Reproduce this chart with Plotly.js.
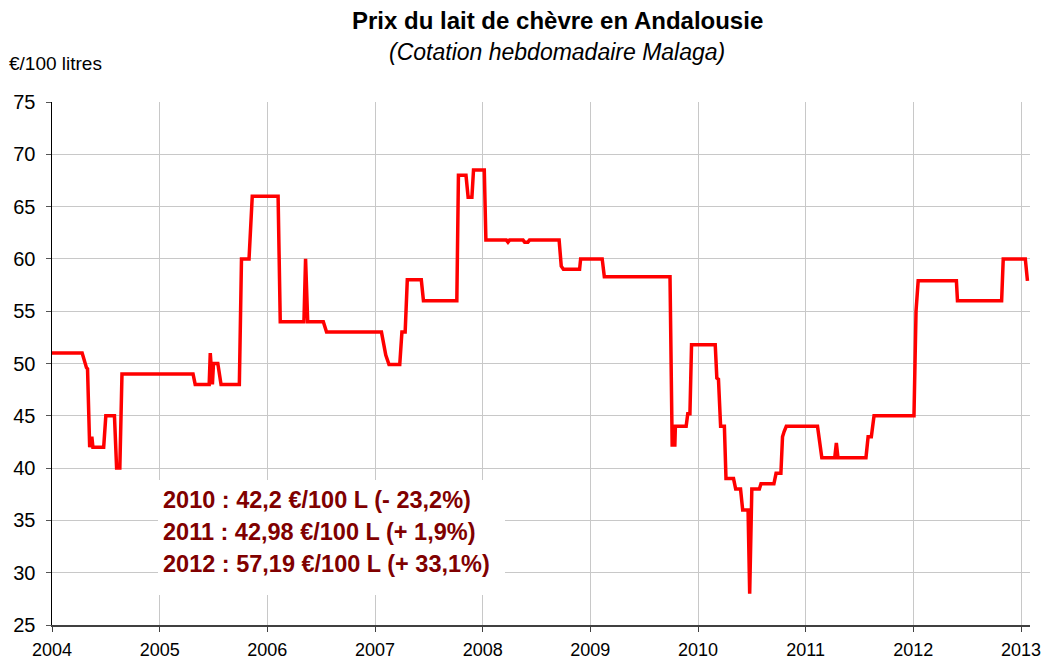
<!DOCTYPE html>
<html>
<head>
<meta charset="utf-8">
<script src="https://cdn.plot.ly/plotly-3.0.1.min.js"></script>
<style>html,body{margin:0;padding:0;background:#fff}#chart{width:1043px;height:663px}</style>
</head>
<body>
<div id="chart"></div>
<script>
// Weekly quotation (decimal year, €/100 litres)
const dates = [
  2004.00, 2004.28, 2004.32, 2004.33, 2004.35, 2004.37, 2004.38, 2004.48, 2004.50, 2004.58,
  2004.60, 2004.63, 2004.65, 2005.31, 2005.33, 2005.46, 2005.47, 2005.49, 2005.50, 2005.54,
  2005.57, 2005.74, 2005.76, 2005.83, 2005.86, 2006.10, 2006.12, 2006.34, 2006.355, 2006.375,
  2006.52, 2006.55, 2007.06, 2007.10, 2007.13, 2007.23, 2007.25, 2007.28, 2007.30, 2007.43,
  2007.45, 2007.76, 2007.775, 2007.845, 2007.865, 2007.90, 2007.915, 2008.015, 2008.03, 2008.22,
  2008.235, 2008.25, 2008.375, 2008.39, 2008.42, 2008.435, 2008.71, 2008.73, 2008.75, 2008.90,
  2008.91, 2009.11, 2009.13, 2009.74, 2009.76, 2009.785, 2009.79, 2009.89, 2009.905, 2009.925,
  2009.94, 2010.16, 2010.175, 2010.19, 2010.21, 2010.245, 2010.26, 2010.33, 2010.35, 2010.395,
  2010.415, 2010.465, 2010.48, 2010.50, 2010.57, 2010.585, 2010.705, 2010.725, 2010.77, 2010.785,
  2010.80, 2010.82, 2011.11, 2011.15, 2011.27, 2011.285, 2011.30, 2011.56, 2011.58, 2011.61,
  2011.635, 2012.006, 2012.025, 2012.045, 2012.40, 2012.41, 2012.82, 2012.835, 2013.04, 2013.06
];
const prices = [
  51, 51, 49.6, 49.5, 42, 43, 42, 42, 45, 45,
  40, 40, 49, 49, 48, 48, 51, 48, 50, 50,
  48, 48, 60, 60, 66, 66, 54, 54, 60, 54,
  54, 53, 53, 50.8, 49.9, 49.9, 53, 53, 58, 58,
  56, 56, 68, 68, 65.9, 65.9, 68.5, 68.5, 61.8, 61.8,
  61.6, 61.8, 61.8, 61.6, 61.6, 61.8, 61.8, 59.3, 59, 59,
  60, 60, 58.3, 58.3, 42.2, 42.2, 44, 44, 45.2, 45.2,
  51.8, 51.8, 48.6, 48.5, 44, 44, 39, 39, 38, 38,
  36, 36, 28, 38, 38, 38.5, 38.5, 39.5, 39.5, 43,
  43.5, 44, 44, 41, 41, 42.4, 41, 41, 43, 43,
  45, 45, 55, 57.9, 57.9, 56, 56, 60, 60, 57.9
];
const yearTicks = [2004, 2005, 2006, 2007, 2008, 2009, 2010, 2011, 2012, 2013];
const yearLabels = ["2004", "2005", "2006", "2007", "2008", "2009", "2010", "2011", "2012", "2013"];
const priceTicks = [25, 30, 35, 40, 45, 50, 55, 60, 65, 70, 75];
const titleText = "Prix du lait de chèvre en Andalousie";
const subtitleText = "(Cotation hebdomadaire Malaga)";
const unitText = "€/100 litres";
const summaryLines = [
  "2010 : 42,2 €/100 L (- 23,2%)",
  "2011 : 42,98 €/100 L (+ 1,9%)",
  "2012 : 57,19 €/100 L (+ 33,1%)"
];

const FONT = "Liberation Sans, Arial, sans-serif";
const L = 52, R = 1030, T = 102, B = 625;
const px2paperX = p => (p - L) / (R - L);
const px2paperY = p => (B - p) / (B - T);

const trace = {
  x: dates, y: prices, type: "scatter", mode: "lines",
  line: {color: "#ff0000", width: 3.5, shape: "linear"},
  hoverinfo: "x+y"
};

const annotations = [
  {text: "<b>" + titleText + "</b>", xref: "paper", yref: "paper", x: px2paperX(557), y: px2paperY(20),
   xanchor: "center", yanchor: "middle", showarrow: false, font: {family: FONT, size: 24, color: "#000"}},
  {text: "<i>" + subtitleText + "</i>", xref: "paper", yref: "paper", x: px2paperX(557), y: px2paperY(52),
   xanchor: "center", yanchor: "middle", showarrow: false, font: {family: FONT, size: 23, color: "#000"}},
  {text: unitText, xref: "paper", yref: "paper", x: px2paperX(7), y: px2paperY(63),
   xanchor: "left", yanchor: "middle", showarrow: false, font: {family: FONT, size: 19, color: "#000"}}
];
const lineY = [500, 532, 564];
summaryLines.forEach((t, i) => {
  annotations.push({text: "<b>" + t + "</b>", xref: "paper", yref: "paper", x: px2paperX(161), y: px2paperY(lineY[i]),
    xanchor: "left", yanchor: "middle", showarrow: false, font: {family: FONT, size: 23.5, color: "#800000"}});
});

const layout = {
  width: 1043, height: 663,
  margin: {l: L, r: 1043 - R, t: T, b: 663 - B, pad: 0},
  paper_bgcolor: "#fff", plot_bgcolor: "#fff",
  showlegend: false,
  xaxis: {
    range: [2004, 2013 + (R - 1021) / 107.67], tickvals: yearTicks, ticktext: yearLabels,
    showgrid: true, gridcolor: "#c8c8c8", gridwidth: 1, zeroline: false,
    showline: true, linecolor: "#404040", linewidth: 2,
    ticks: "outside", ticklen: 5, tickcolor: "#404040", ticklabelstandoff: 2,
    tickfont: {family: FONT, size: 18, color: "#000"}
  },
  yaxis: {
    range: [25, 75], tickvals: priceTicks,
    showgrid: true, gridcolor: "#c8c8c8", gridwidth: 1, zeroline: false,
    showline: true, linecolor: "#000", linewidth: 1.5,
    ticks: "outside", ticklen: 5, tickcolor: "#555", ticklabelstandoff: 6,
    tickfont: {family: FONT, size: 20, color: "#000"}
  },
  shapes: [
    {type: "rect", xref: "paper", yref: "paper", x0: px2paperX(158), x1: px2paperX(505),
     y0: px2paperY(595), y1: px2paperY(480), fillcolor: "#fff", line: {width: 0}, layer: "above"}
  ],
  annotations: annotations
};

Plotly.newPlot("chart", [trace], layout, {staticPlot: true, displayModeBar: false});
</script>
</body>
</html>
